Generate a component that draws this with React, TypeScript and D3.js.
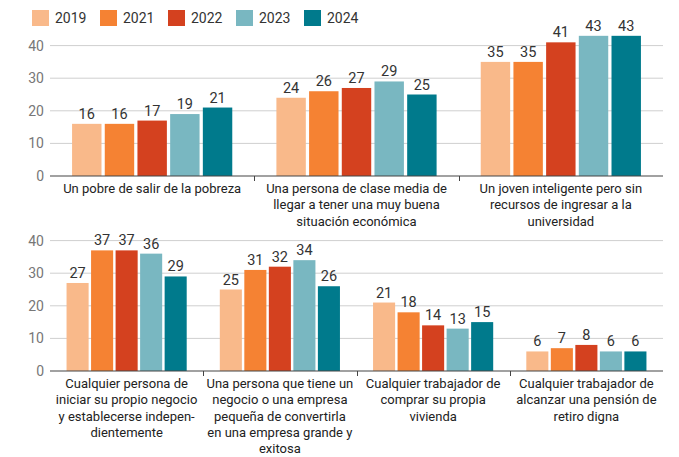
import React, { useEffect, useRef } from "react";
import * as d3 from "d3";

const years = ["2019", "2021", "2022", "2023", "2024"];
const colors = ["#F9B98A", "#F58233", "#D4411F", "#79B7C1", "#007A8C"];

const topCategories = [
  ["Un pobre de salir de la pobreza"],
  ["Una persona de clase media de", "llegar a tener una muy buena", "situación económica"],
  ["Un joven inteligente pero sin", "recursos de ingresar a la", "universidad"],
];
const topValues = [
  [16, 16, 17, 19, 21],
  [24, 26, 27, 29, 25],
  [35, 35, 41, 43, 43],
];

const bottomCategories = [
  ["Cualquier persona de", "iniciar su propio negocio", "y establecerse indepen-", "dientemente"],
  ["Una persona que tiene un", "negocio o una empresa", "pequeña de convertirla", "en una empresa grande y", "exitosa"],
  ["Cualquier trabajador de", "comprar su propia", "vivienda"],
  ["Cualquier trabajador de", "alcanzar una pensión de", "retiro digna"],
];
const bottomValues = [
  [27, 37, 37, 36, 29],
  [25, 31, 32, 34, 26],
  [21, 18, 14, 13, 15],
  [6, 7, 8, 6, 6],
];

const yTicks = [0, 10, 20, 30, 40];

const W = 679;
const H = 457;
const FONT = "Roboto, 'Noto Sans', sans-serif";

export default function App() {
  const ref = useRef<SVGSVGElement>(null);

  useEffect(() => {
    const svg = d3.select(ref.current);
    svg.selectAll("*").remove();

    // legend
    const legend = svg.append("g");
    years.forEach((yr, i) => {
      const g = legend.append("g").attr("transform", "translate(" + (32 + i * 68) + ",10)");
      g.append("rect").attr("width", 17).attr("height", 16).attr("fill", colors[i]);
      g.append("text")
        .attr("x", 23)
        .attr("y", 13)
        .attr("font-size", 14)
        .attr("fill", "#333")
        .text(yr);
    });

    const drawPanel = (cats: string[][], vals: number[][], y0: number) => {
      const left = 50;
      const right = 663;
      const y = d3.scaleLinear().domain([0, 40]).range([y0, y0 - 130.4]);
      const idx = cats.map((_, i) => String(i));
      const x0 = d3.scaleBand().domain(idx).range([left, right]);
      const pad = x0.bandwidth() * 0.108;
      const x1 = d3
        .scaleBand()
        .domain(years)
        .range([pad, x0.bandwidth() - pad])
        .paddingInner(0.1);

      const g = svg.append("g");

      // grid + y labels
      yTicks.forEach((t) => {
        if (t > 0) {
          g.append("line")
            .attr("x1", left)
            .attr("x2", right)
            .attr("y1", y(t))
            .attr("y2", y(t))
            .attr("stroke", "#cfcfcf")
            .attr("stroke-width", 1);
        }
        g.append("text")
          .attr("x", 44)
          .attr("y", y(t))
          .attr("dy", "0.35em")
          .attr("text-anchor", "end")
          .attr("font-size", 14)
          .attr("fill", "#777")
          .text(t);
      });

      // bars
      vals.forEach((row, ci) => {
        const gg = g.append("g").attr("transform", "translate(" + x0(String(ci)) + ",0)");
        gg.selectAll("rect")
          .data(row)
          .enter()
          .append("rect")
          .attr("x", (_, i) => x1(years[i]) as number)
          .attr("width", x1.bandwidth())
          .attr("y", (d) => y(d))
          .attr("height", (d) => y0 - y(d))
          .attr("fill", (_, i) => colors[i]);
        gg.selectAll("text.val")
          .data(row)
          .enter()
          .append("text")
          .attr("class", "val")
          .attr("x", (_, i) => (x1(years[i]) as number) + x1.bandwidth() / 2)
          .attr("y", (d) => y(d) - 5)
          .attr("text-anchor", "middle")
          .attr("font-size", 14.5)
          .attr("fill", "#333")
          .text((d) => d);

        const lbl = gg.append("text")
          .attr("text-anchor", "middle")
          .attr("font-size", 13)
          .attr("fill", "#222");
        cats[ci].forEach((line, li) => {
          lbl.append("tspan")
            .attr("x", x0.bandwidth() / 2)
            .attr("y", y0 + 17 + li * 16.3)
            .text(line);
        });
      });

      // axis line + dividers
      g.append("line")
        .attr("x1", left)
        .attr("x2", right)
        .attr("y1", y0)
        .attr("y2", y0)
        .attr("stroke", "#444")
        .attr("stroke-width", 1.2);
      idx.slice(1).forEach((c) => {
        const xx = Math.round(x0(c) as number) + 0.5;
        g.append("line")
          .attr("x1", xx)
          .attr("x2", xx)
          .attr("y1", y0)
          .attr("y2", y0 + 5)
          .attr("stroke", "#444");
      });
    };

    drawPanel(topCategories, topValues, 176);
    drawPanel(bottomCategories, bottomValues, 371);
  }, []);

  return (
    <svg
      ref={ref}
      width={W}
      height={H}
      style={{ position: "absolute", left: 0, top: 0, fontFamily: FONT, background: "#fff" }}
    />
  );
}
